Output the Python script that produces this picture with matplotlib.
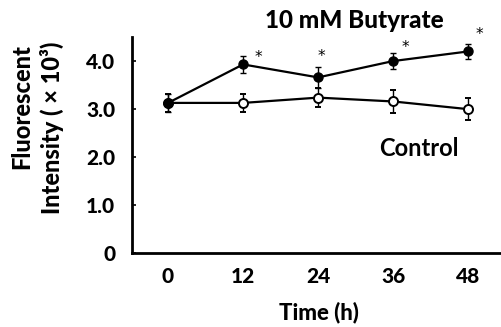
import matplotlib
matplotlib.use("Agg")
import matplotlib.pyplot as plt

plt.rcParams['font.family'] = ['Lato', 'DejaVu Sans']

time_h = [0, 12, 24, 36, 48]
butyrate = [3.12, 3.92, 3.65, 3.99, 4.19]
butyrate_err = [0.19, 0.17, 0.21, 0.17, 0.16]
control = [3.12, 3.12, 3.23, 3.15, 2.99]
control_err = [0.19, 0.19, 0.19, 0.24, 0.23]
star_offsets = [None, (11, 5), (2, 15), (9, 10), (8, 12)]  # points offset from marker
yticks = [0, 1, 2, 3, 4]
yticklabels = ['0', '1.0', '2.0', '3.0', '4.0']

W, H = 502, 327
fig = plt.figure(figsize=(W / 100, H / 100), dpi=100)
ax = fig.add_axes([132 / W, 1 - 253 / H, (W - 132) / W, (253 - 37) / H])

ax.errorbar(time_h, control, yerr=control_err, color='black', lw=1.6,
            marker='o', ms=6.5, mfc='white', mec='black', mew=1.4,
            capsize=2.5, capthick=1.0, elinewidth=1.0, zorder=2)
ax.errorbar(time_h, butyrate, yerr=butyrate_err, color='black', lw=1.6,
            marker='o', ms=6.5, mfc='black', mec='black',
            capsize=2.5, capthick=1.0, elinewidth=1.0, zorder=3)

for t, v, off in zip(time_h, butyrate, star_offsets):
    if off is None:
        continue
    ax.annotate('*', (t, v), xytext=off, textcoords='offset points',
                ha='center', va='center', fontsize=11, family='DejaVu Sans')

BW = 'black'
ax.set_xlim(-5.76, 53.4)
ax.set_ylim(0, 4.49)
ax.set_xticks(time_h)
ax.set_xticklabels([str(t) for t in time_h], fontsize=15, fontweight=BW)
ax.set_yticks(yticks)
ax.set_yticklabels(yticklabels, fontsize=15, fontweight=BW)
ax.tick_params(axis='x', length=0, pad=10)
ax.tick_params(axis='y', direction='in', length=3, width=1.2, pad=12)
for s in ['top', 'right']:
    ax.spines[s].set_visible(False)
for s in ['left', 'bottom']:
    ax.spines[s].set_linewidth(2)

fig.text(354 / W, 1 - 20 / H, '10 mM Butyrate', ha='center', va='center',
         fontsize=17.5, fontweight=BW)
fig.text(419 / W, 1 - 148 / H, 'Control', ha='center', va='center',
         fontsize=17, fontweight='bold')
fig.text(319 / W, 1 - 312 / H, 'Time (h)', ha='center', va='center',
         fontsize=16, fontweight=BW)
fig.text(22 / W, 1 - 107 / H, 'Fluorescent', ha='center', va='center',
         rotation=90, fontsize=17, fontweight=BW)
fig.text(52 / W, 1 - 128 / H, 'Intensity ( × 10³)', ha='center', va='center',
         rotation=90, fontsize=17, fontweight=BW)

fig.savefig('out.png', dpi=100)
